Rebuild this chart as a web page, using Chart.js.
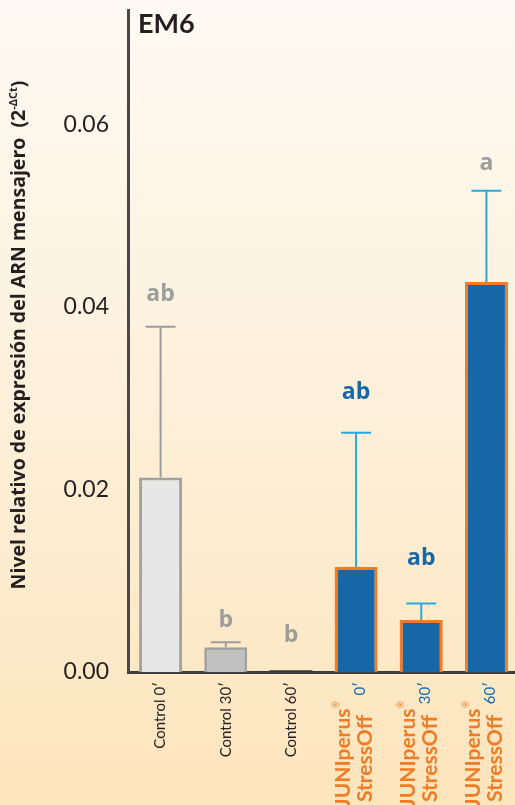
<!DOCTYPE html>
<html>
<head>
<meta charset="utf-8">
<script src="https://cdn.jsdelivr.net/npm/chart.js@4.4.1/dist/chart.umd.min.js"></script>
<style>
html, body { margin: 0; padding: 0; overflow: hidden; }
body { width: 515px; height: 805px; background: linear-gradient(#fefaf3 0%, #fdf0da 50%, #fde5bc 100%); }
#wrap { position: relative; width: 519px; height: 805px; }
</style>
</head>
<body>
<div id="wrap"><canvas id="myChart"></canvas></div>
<script>
const groups = ["Control", "Control", "Control", "JUNIperus", "JUNIperus", "JUNIperus"];
const times = ["0′", "30′", "60′", "0′", "30′", "60′"];
const means = [0.0213, 0.0027, 0.0002, 0.0115, 0.0057, 0.0427];
const errors = [0.0165, 0.00055, 0, 0.0147, 0.0018, 0.0100];
const letters = ["ab", "b", "b", "ab", "ab", "a"];
const letterAt = [0.0406, 0.0049, 0.0033, 0.0299, 0.0117, 0.0550];
const yTicks = [0, 0.02, 0.04, 0.06];

const GRAY = "#9d9d9d";
const BLUE = "#1767a7";
const ORANGE = "#f27b25";
const CYAN = "#29a8df";
const DARK = "#231f20";

const fills = ["#e8e7e7", "#c1c1c1", "#3a3838", BLUE, BLUE, BLUE];
const borders = ["#a2a2a2", "#a2a2a2", "#3a3838", ORANGE, ORANGE, ORANGE];
const borderW = [3, 3, 0, 3, 3, 3];
const errColors = [GRAY, GRAY, GRAY, CYAN, CYAN, CYAN];
const letterColors = [GRAY, GRAY, GRAY, BLUE, BLUE, GRAY];

/* error bars */
const errorBars = {
  id: "errorBars",
  afterDatasetsDraw(chart) {
    const c = chart.ctx;
    const y = chart.scales.y;
    const meta = chart.getDatasetMeta(0);
    c.save();
    meta.data.forEach((bar, i) => {
      if (!errors[i]) return;
      const top = y.getPixelForValue(means[i] + errors[i]);
      const base = y.getPixelForValue(means[i]);
      c.strokeStyle = errColors[i];
      c.lineWidth = 2;
      c.beginPath();
      c.moveTo(bar.x, base);
      c.lineTo(bar.x, top);
      c.moveTo(bar.x - 15, top);
      c.lineTo(bar.x + 15, top);
      c.stroke();
    });
    c.restore();
  }
};

/* letters, x labels, titles */
const extras = {
  id: "extras",
  afterDraw(chart) {
    const c = chart.ctx;
    const y = chart.scales.y;
    const x = chart.scales.x;
    c.save();

    // significance letters
    c.font = "bold 23px 'Open Sans'";
    c.textAlign = "center";
    c.textBaseline = "alphabetic";
    letters.forEach((t, i) => {
      c.fillStyle = letterColors[i];
      c.fillText(t, x.getPixelForValue(i), y.getPixelForValue(letterAt[i]));
    });

    // x labels (rotated)
    const top = chart.chartArea.bottom + 10;
    groups.forEach((g, i) => {
      const cx = x.getPixelForValue(i);
      if (g === "Control") {
        c.save();
        c.translate(cx, top);
        c.rotate(-Math.PI / 2);
        c.textAlign = "right";
        c.textBaseline = "middle";
        c.fillStyle = DARK;
        c.font = "15px Lato";
        c.fillText("Control " + times[i], 0, 0);
        c.restore();
      } else {
        // time in blue
        c.save();
        c.translate(cx + 4, top);
        c.rotate(-Math.PI / 2);
        c.textAlign = "right";
        c.textBaseline = "middle";
        c.fillStyle = BLUE;
        c.font = "15px Lato";
        c.fillText(times[i], 0, 0);
        c.restore();
        // JUNIperus®
        c.save();
        c.translate(cx - 13, top + 19);
        c.rotate(-Math.PI / 2);
        c.textBaseline = "middle";
        c.fillStyle = ORANGE;
        c.font = "9px Lato";
        c.textAlign = "right";
        c.fillText("®", 0, -7);
        const rw = c.measureText("®").width;
        c.font = "bold 21px Lato";
        c.fillText("JUNIperus", -rw, 0);
        c.restore();
        // StressOff
        c.save();
        c.translate(cx + 9, top + 33);
        c.rotate(-Math.PI / 2);
        c.textAlign = "right";
        c.textBaseline = "middle";
        c.fillStyle = ORANGE;
        c.font = "bold 21px Lato";
        c.fillText("StressOff", 0, 0);
        c.restore();
      }
    });

    // chart title
    c.fillStyle = DARK;
    c.font = "bold 27px Lato";
    c.textAlign = "left";
    c.textBaseline = "alphabetic";
    c.fillText("EM6", 138, 33);

    // y axis title with superscript
    const main = "Nivel relativo de expresión del ARN mensajero  (2";
    const sup = "-ΔCt";
    const end = ")";
    const fMain = "bold 19.5px 'Open Sans'";
    const fSup = "bold 11px 'Open Sans'";
    c.font = fMain;
    const w1 = c.measureText(main).width;
    const w3 = c.measureText(end).width;
    c.font = fSup;
    const w2 = c.measureText(sup).width;
    const total = w1 + w2 + w3;
    c.save();
    c.translate(25, 335);
    c.rotate(-Math.PI / 2);
    c.textAlign = "left";
    c.textBaseline = "alphabetic";
    c.fillStyle = DARK;
    let px = -total / 2;
    c.font = fMain;
    c.fillText(main, px, 0);
    px += w1;
    c.font = fSup;
    c.fillText(sup, px, -8);
    px += w2;
    c.font = fMain;
    c.fillText(end, px, 0);
    c.restore();

    c.restore();
  }
};

const ctx = document.getElementById("myChart").getContext("2d");

new Chart(ctx, {
  type: "bar",
  data: {
    labels: groups.map((g, i) => g + " " + times[i]),
    datasets: [{
      data: means,
      backgroundColor: fills,
      borderColor: borders,
      borderWidth: borderW,
      borderSkipped: "bottom",
      barPercentage: 1,
      categoryPercentage: 0.66
    }]
  },
  options: {
    responsive: true,
    maintainAspectRatio: false,
    animation: false,
    devicePixelRatio: 1,
    layout: { padding: { top: 10, right: 0, bottom: 0, left: 0 } },
    plugins: {
      legend: { display: false },
      tooltip: { enabled: false },
      title: { display: false }
    },
    scales: {
      x: {
        offset: true,
        grid: { display: false },
        border: { display: true, color: "#3d3b3b", width: 3 },
        ticks: { display: false },
        afterFit: (s) => { s.height = 133; }
      },
      y: {
        min: 0,
        max: 0.0725,
        grid: { display: false },
        border: { display: true, color: "#4a4848", width: 3 },
        afterBuildTicks: (s) => { s.ticks = yTicks.map(v => ({ value: v })); },
        ticks: {
          padding: 11,
          color: DARK,
          font: { family: "Lato", size: 23 },
          callback: (v) => Number(v).toFixed(2)
        },
        afterFit: (s) => { s.width = 128; s.paddingTop = 0; s.paddingBottom = 0; }
      }
    }
  },
  plugins: [errorBars, extras]
});
</script>
</body>
</html>
